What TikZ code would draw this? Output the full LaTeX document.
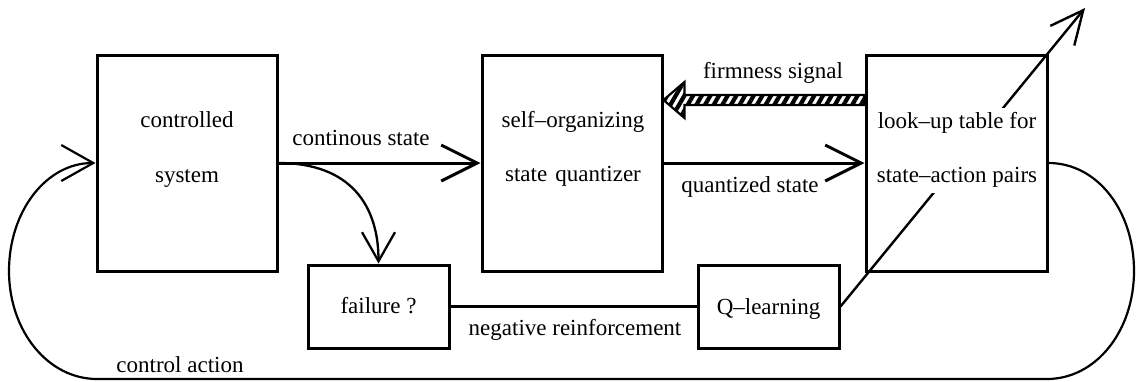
\documentclass[tikz,border=0pt]{standalone}
\usepackage{fontspec}
\setmainfont{Liberation Serif}
\usetikzlibrary{arrows.meta,patterns.meta,calc}
\pgfdeclarelayer{bg}
\pgfsetlayers{bg,main}
\begin{document}
\begin{tikzpicture}[x=1pt,y=-1pt,
  box/.style={draw,line width=3pt,minimum width=180pt,minimum height=216pt,inner sep=0pt},
  sbox/.style={draw,line width=3pt,minimum width=141pt,minimum height=83pt,inner sep=0pt},
  txt/.style={font=\fontsize{23}{27}\selectfont,inner sep=0pt,anchor=base},
  bigarr/.style={line width=3pt,-{Straight Barb[length=36pt,width=36pt]}},
  curvearr/.style={line width=2.3pt,-{Straight Barb[length=29pt,width=33pt]}},
  diagarr/.style={line width=2.4pt,-{Straight Barb[length=33pt,width=31pt]}},
  loopline/.style={line width=2.2pt,-{Straight Barb[length=32pt,width=36pt]}},
  thinline/.style={line width=2.2pt},
  hatch/.style={draw,line width=2.2pt,line join=miter,pattern={Lines[angle=60,distance=7.5pt,line width=4.2pt]}}
]
\useasboundingbox (0,0) rectangle (1136,381);

% boxes
\node[box] (cs) at (187,163) {};
\node[box] (sq) at (572,163) {};
\node[box,minimum width=181pt] (lut) at (956.5,163) {};
\node[sbox] (fail) at (378.5,306.5) {};
\node[sbox] (ql) at (768.5,306.5) {};

% box texts
\node[txt] (cs1) at (187,127) {controlled};
\node[txt] (cs2) at (187,182) {system};
\node[txt] (sq1) at (573,127) {self–organizing};
\node[txt] (sq2) at (573,181) {state\hspace{8pt}quantizer};
\node[txt] (lt1) at (957,128) {look–up table for};
\node[txt] (lt2) at (957,182) {state–action pairs};
\node[txt] (ft) at (378.5,313) {failure ?};
\node[txt] (qt) at (768.5,314) {Q–learning};

% labels
\node[txt] (l1) at (361,145) {continous state};
\node[txt] (l2) at (750,192) {quantized state};
\node[txt] (l3) at (773,78) {firmness signal};
\node[txt] (l4) at (575,335) {negative reinforcement};
\node[txt] (l5) at (180,372) {control action};

% diagonal line behind the look-up text
\coordinate (tipc) at (1085,8);
\begin{pgfonlayer}{bg}
  \draw[diagarr] (ql.east) -- (tipc);
  \fill[white] ($(lt2.west |- lt1.north)+(-2,-4)$) rectangle ($(lt2.east |- lt2.south)+(2,6)$);
\end{pgfonlayer}

% straight arrows
\draw[bigarr] (cs.east) -- (sq.west);
\draw[bigarr] (sq.east) -- (lut.west);

% failure arrow
\draw[curvearr] (cs.east) .. controls +(72,0) and +(0,-58) .. (fail.north);

% negative reinforcement
\draw[thinline] (fail.east) -- (ql.west);

% firmness signal hatched arrow
\path (lut.west) ++(0,-63) coordinate (fs);
\path (sq.east) ++(0,-63) coordinate (fe);
\draw[hatch] (fe) -- ($(fe)+(21,-18)$) -- ($(fe)+(21,-5)$) -- ($(fs)+(0,-5)$)
  -- ($(fs)+(0,5)$) -- ($(fe)+(21,5)$) -- ($(fe)+(21,18)$) -- cycle;

% control action loop
\coordinate (rr) at (1134,271);
\coordinate (rb) at (1047,379);
\coordinate (lb) at (97,379);
\coordinate (ll) at (9,271);
\draw[loopline] (lut.east) .. controls +(49,0) and +(0,-60) .. (rr)
  .. controls +(0,60) and +(49,0) .. (rb) -- (lb)
  .. controls +(-49,0) and +(0,60) .. (ll)
  .. controls +(0,-60) and +(-49,0) .. (cs.west);
\end{tikzpicture}
\end{document}
